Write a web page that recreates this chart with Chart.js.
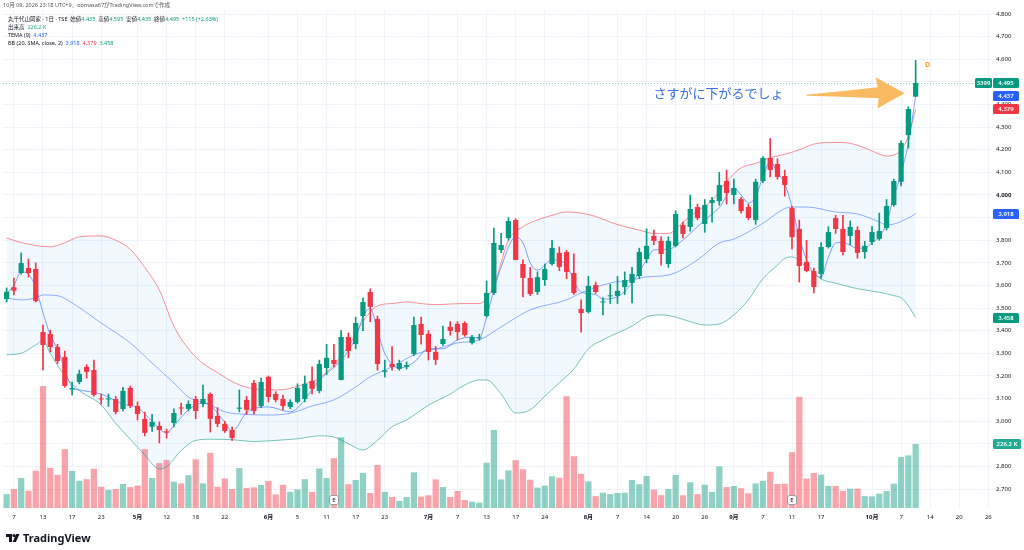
<!DOCTYPE html>
<html>
<head>
<meta charset="utf-8">
<script src="https://cdn.jsdelivr.net/npm/chart.js@4.4.1/dist/chart.umd.min.js"></script>
<style>
  body { margin: 0; background: #fff; font-family: "Noto Sans", "Noto Sans CJK JP", sans-serif; }
  #wrap { position: relative; width: 1024px; height: 550px; overflow: hidden; }
  #chart { position: absolute; left: 0; top: 0; }
  #title { position: absolute; left: 3px; top: 1px; font-size: 5.5px; color: #555; white-space: nowrap; }
  #legend { position: absolute; left: 8px; top: 15px; font-size: 5.5px; line-height: 8px; color: #131722; white-space: nowrap; }
  .g { color: #089981; } .b { color: #2962ff; } .r { color: #f23645; } .t { color: #22ab94; }
  #logo { position: absolute; left: 6px; top: 530px; font-size: 11px; font-weight: 700; color: #131722; display: flex; align-items: center; gap: 3px; }
</style>
</head>
<body>
<div id="wrap">
  <canvas id="chart" width="1024" height="550"></canvas>
  <div id="title">10月 09, 2026 23:18 UTC+9、oomasa67がTradingView.comで作成</div>
  <div id="legend">
    <div>丸千代山岡家 · 1日 · TSE &nbsp;始値<span class="g">4,435</span> &nbsp;高値<span class="g">4,595</span> &nbsp;安値<span class="g">4,435</span> &nbsp;終値<span class="g">4,495</span> &nbsp;<span class="g">+115 (+2.63%)</span></div>
    <div>出来高 &nbsp;<span class="t">226.2 K</span></div>
    <div>TEMA (9) &nbsp;<span class="b">4,437</span></div>
    <div>BB (20, SMA, close, 2) &nbsp;<span class="b">3,918</span> &nbsp;<span class="r">4,379</span> &nbsp;<span class="g">3,458</span></div>
  </div>
  <div id="logo">
    <svg width="14" height="10" viewBox="0 0 14 10"><path d="M0 1h6v8h-3v-5h-3z" fill="#131722"/><circle cx="8" cy="2.6" r="1.6" fill="#131722"/><path d="M10.2 1h3.3l-3.6 8h-3.3z" fill="#131722"/></svg>
    <span>TradingView</span>
  </div>
</div>
<script>
// trading days (2026) plus empty future slots on the right
const dates = [
  '4/6','4/7','4/8','4/9','4/10','4/13','4/14','4/15','4/16','4/17','4/20','4/21','4/22','4/23','4/24','4/27','4/28','4/30',
  '5/1','5/7','5/8','5/11','5/12','5/13','5/14','5/15','5/18','5/19','5/20','5/21','5/22','5/25','5/26','5/27','5/28','5/29',
  '6/1','6/2','6/3','6/4','6/5','6/8','6/9','6/10','6/11','6/12','6/15','6/16','6/17','6/18','6/19','6/22','6/23','6/24','6/25','6/26','6/29','6/30',
  '7/1','7/2','7/3','7/6','7/7','7/8','7/9','7/10','7/13','7/14','7/15','7/16','7/17','7/21','7/22','7/23','7/24','7/27','7/28','7/29','7/30','7/31',
  '8/3','8/4','8/5','8/6','8/7','8/10','8/12','8/13','8/14','8/17','8/18','8/19','8/20','8/21','8/24','8/25','8/26','8/27','8/28','8/31',
  '9/1','9/2','9/3','9/4','9/7','9/8','9/9','9/10','9/11','9/14','9/15','9/16','9/17','9/18','9/24','9/25','9/28','9/29','9/30',
  '10/1','10/2','10/5','10/6','10/7','10/8','10/9',
  '10/13','10/14','10/15','10/16','10/19','10/20','10/21','10/22','10/23','10/26'
];

// time axis labels
const tickLabels = {
  '4/7': '7', '4/13': '13', '4/17': '17', '4/23': '23', '5/1': '5月', '5/12': '12', '5/18': '18', '5/22': '22',
  '6/1': '6月', '6/5': '5', '6/11': '11', '6/17': '17', '6/23': '23', '7/1': '7月', '7/7': '7', '7/13': '13',
  '7/17': '17', '7/24': '24', '8/3': '8月', '8/7': '7', '8/14': '14', '8/20': '20', '8/26': '26', '9/1': '9月',
  '9/7': '7', '9/11': '11', '9/17': '17', '10/1': '10月', '10/7': '7', '10/14': '14', '10/20': '20', '10/26': '26'
};

const opens = [
  3540,3592,3655,3677,3673,3394,3386,3328,3284,3140,
  3173,3240,3226,3100,3096,3098,3054,3147,3067,3010,
  2975,2979,2955,2992,3060,3054,3098,3076,3120,3023,
  2988,2961,3055,3094,3169,3067,3196,3120,3098,3063,
  3085,3098,3178,3134,3235,3270,3182,3372,3341,3465,
  3571,3452,3218,3253,3231,3240,3297,3430,3386,3306,
  3341,3417,3430,3434,3346,3366,3465,3567,3757,3810,
  3889,3695,3633,3571,3624,3695,3744,3748,3655,3496,
  3483,3602,3525,3552,3554,3593,3611,3642,3717,3819,
  3797,3695,3775,3867,3859,3947,3872,3965,3973,4062,
  4000,3982,3947,3889,4062,4164,4137,4084,3942,3850,
  3704,3664,3651,3770,3898,3850,3819,3845,3748,3792,
  3806,3854,3956,4058,4265,4435
];
const highs = [
  3589,3633,3744,3717,3700,3425,3403,3340,3310,3173,
  3226,3250,3270,3120,3120,3110,3150,3155,3085,3040,
  3030,2997,2965,3055,3080,3090,3110,3160,3125,3060,
  3000,2975,3138,3110,3180,3190,3200,3130,3115,3095,
  3165,3200,3240,3270,3340,3340,3400,3390,3460,3545,
  3585,3465,3270,3330,3270,3262,3460,3460,3400,3330,
  3420,3440,3440,3440,3380,3385,3620,3854,3830,3900,
  3895,3713,3680,3660,3695,3800,3770,3755,3740,3536,
  3640,3615,3545,3605,3640,3660,3680,3765,3850,3845,
  3815,3815,3930,3880,4000,3960,3980,3990,4100,4110,
  4070,3990,3960,4070,4170,4250,4160,4110,3950,3889,
  3800,3677,3790,3860,3910,3910,3885,3860,3795,3860,
  3920,3980,4070,4240,4390,4595
];
const lows = [
  3527,3558,3650,3637,3527,3226,3306,3255,3150,3116,
  3165,3190,3110,3075,3065,3032,3045,3060,3005,2935,
  2955,2904,2925,2975,3030,3045,3010,3063,2952,2975,
  2950,2915,3041,3030,3030,3060,3085,3085,3050,3055,
  3080,3085,3120,3125,3205,3240,3182,3280,3320,3400,
  3440,3225,3195,3225,3225,3230,3290,3340,3270,3250,
  3335,3380,3360,3375,3340,3358,3460,3560,3745,3800,
  3713,3549,3555,3560,3600,3690,3665,3630,3560,3394,
  3478,3565,3470,3520,3520,3560,3523,3630,3700,3780,
  3690,3680,3770,3810,3840,3890,3835,3880,3955,3960,
  3960,3920,3890,3870,4055,4080,4070,3995,3760,3615,
  3660,3567,3630,3765,3830,3735,3780,3720,3720,3780,
  3800,3845,3950,4040,4208,4435
];
const closes = [
  3572,3577,3699,3655,3531,3337,3328,3266,3156,3146,
  3209,3218,3116,3096,3100,3041,3134,3067,3032,2948,
  2997,2961,2950,3036,3056,3076,3045,3098,3010,2988,
  2957,2926,3060,3050,3045,3173,3107,3094,3067,3085,
  3147,3165,3143,3253,3280,3253,3372,3310,3434,3527,
  3505,3253,3224,3240,3257,3248,3425,3381,3306,3271,
  3363,3399,3394,3381,3372,3370,3567,3788,3779,3885,
  3713,3633,3562,3637,3673,3766,3682,3660,3567,3478,
  3598,3571,3529,3556,3576,3624,3651,3748,3775,3797,
  3739,3797,3916,3828,3938,3898,3956,3978,4044,4009,
  4031,3929,3898,4058,4164,4111,4080,4044,3814,3686,
  3664,3593,3770,3836,3850,3748,3859,3744,3775,3836,
  3841,3951,4062,4230,4380,4495
];
// volume, thousands of shares
const volumes = [
  49,67,106,61,132,431,142,117,208,131,
  96,102,139,75,64,67,85,74,79,208,
  106,159,170,93,87,116,172,87,195,75,
  104,67,141,71,73,81,96,48,82,57,
  66,102,57,140,106,176,250,84,99,124,
  53,152,57,39,25,39,126,40,45,101,
  74,39,60,28,22,19,160,276,101,133,
  169,137,100,72,79,112,107,395,183,121,
  94,42,54,49,53,54,99,84,113,65,
  45,67,117,45,91,49,82,57,147,74,
  78,70,52,87,96,128,85,86,197,393,
  104,124,118,78,78,61,68,68,42,41,
  51,60,86,180,186,226.2
];

// TEMA(9), read at these candle indexes
const temaAt = [0,1,2,3,4,5,6,7,9,10,13,16,18,20,22,23,25,27,28,30,31,33,36,39,40,43,46,48,49,50,51,52,54,56,58,60,62,64,65,66,67,68,70,71,72,73,75,77,78,79,81,82,84,86,88,89,91,93,95,96,98,100,101,102,103,104,105,106,107,108,109,110,111,112,113,114,115,117,118,119,120,121,122,123,124,125];
const temaVal = [3565,3600,3660,3650,3590,3480,3380,3320,3151,3138,3120,3075,3060,3000,2948,2980,3050,3080,3070,2995,2955,3038,3063,3041,3058,3180,3271,3368,3461,3500,3400,3300,3235,3260,3320,3320,3359,3372,3368,3460,3580,3682,3814,3788,3700,3668,3713,3690,3620,3570,3560,3540,3550,3611,3713,3757,3760,3801,3860,3889,3945,4031,4000,3965,3991,4080,4146,4100,4050,3947,3814,3713,3655,3638,3726,3788,3790,3765,3765,3790,3814,3876,3991,4097,4230,4437];

// Bollinger bands (20, 2)
const upperAt = [0,2,6,8,10,13,15,17,19,21,23,25,27,29,31,33,35,37,39,41,43,45,47,49,51,53,55,57,59,61,63,65,67,69,71,73,75,77,79,81,83,85,87,89,91,93,95,97,99,101,103,105,107,109,111,113,115,117,119,121,123,124,125];
const upperVal = [3810,3790,3771,3789,3815,3819,3800,3760,3680,3580,3420,3320,3255,3215,3175,3150,3140,3138,3145,3165,3190,3250,3330,3440,3510,3520,3527,3520,3515,3518,3520,3520,3600,3800,3860,3890,3910,3925,3920,3905,3880,3860,3845,3830,3830,3880,3930,3975,4060,4120,4140,4165,4180,4200,4225,4232,4232,4220,4195,4172,4200,4260,4379];
const basisAt = [0,2,4,5,7,9,13,17,20,23,25,28,30,33,36,39,42,45,48,50,53,56,60,62,65,68,72,77,79,83,86,88,91,95,98,100,104,107,108,110,114,117,120,121,124,125];
const basisVal = [3545,3536,3545,3558,3555,3523,3434,3346,3257,3169,3107,3072,3041,3030,3027,3035,3067,3094,3151,3196,3240,3293,3328,3346,3359,3417,3492,3536,3567,3611,3624,3638,3646,3713,3788,3805,3875,3940,3947,3947,3925,3916,3881,3867,3898,3918];
const lowerAt = [0,2,4,5,6,8,10,13,15,17,19,21,22,24,26,28,31,34,37,40,43,45,47,49,51,53,55,58,61,63,65,66,68,70,72,74,76,78,80,82,84,86,88,90,92,94,96,98,100,102,104,106,107,108,110,112,114,116,118,120,122,123,124,125];
const lowerVal = [3293,3300,3337,3355,3300,3200,3135,3072,2990,2920,2850,2789,2798,2870,2915,2920,2918,2910,2915,2922,2935,2930,2900,2873,2915,2975,3005,3070,3120,3160,3182,3182,3120,3036,3050,3110,3170,3230,3320,3360,3390,3420,3461,3470,3460,3440,3425,3430,3470,3536,3630,3690,3720,3726,3680,3628,3610,3593,3580,3570,3555,3545,3510,3458];

const UP = '#089981';
const DOWN = '#f23645';
const isUp = closes.map((c, i) => c >= opens[i]);
const candleColors = isUp.map(u => u ? UP : DOWN);

function points(at, vals) {
  return at.map((i, k) => ({ x: dates[i], y: vals[k] }));
}

function lineSet(label, data, color, order) {
  return {
    type: 'line', label, data, borderColor: color, borderWidth: 1,
    pointRadius: 0, cubicInterpolationMode: 'monotone', fill: false, order
  };
}

// extra drawing: price line, axis tags, markers, annotation
const overlay = {
  id: 'overlay',
  beforeDatasetsDraw(chart) {
    const { ctx, chartArea: a, scales: { y } } = chart;
    const py = Math.round(y.getPixelForValue(closes[closes.length - 1])) + 0.5;
    ctx.save();
    ctx.strokeStyle = 'rgba(8,153,129,0.45)';
    ctx.lineWidth = 1;
    ctx.setLineDash([1, 2]);
    ctx.beginPath();
    ctx.moveTo(a.left, py);
    ctx.lineTo(a.right, py);
    ctx.stroke();
    ctx.restore();
  },
  afterDatasetsDraw(chart) {
    const { ctx, chartArea: a, scales: { x, y } } = chart;
    ctx.save();
    // earnings markers
    [45, 108].forEach(i => {
      const cx = Math.round(x.getPixelForValue(i));
      ctx.fillStyle = '#fff';
      ctx.strokeStyle = '#9598a1';
      ctx.lineWidth = 1;
      ctx.beginPath();
      ctx.roundRect(cx - 4.5, a.bottom - 12.5, 9, 9, 2);
      ctx.fill();
      ctx.stroke();
      ctx.fillStyle = '#131722';
      ctx.font = '6px "Noto Sans"';
      ctx.textAlign = 'center';
      ctx.textBaseline = 'middle';
      ctx.fillText('E', cx, a.bottom - 8);
    });
    // dividend marker
    const last = closes.length - 1;
    ctx.fillStyle = '#f5a11c';
    ctx.font = 'bold 7px "Noto Sans"';
    ctx.textAlign = 'center';
    ctx.fillText('D', x.getPixelForValue(last) + 12, y.getPixelForValue(4595) + 5);
    // arrow
    const tip = x.getPixelForValue(last) - 11;
    const tail = x.getPixelForValue(110);
    const cy = y.getPixelForValue(4450);
    const hb = tip - 27;
    ctx.fillStyle = 'rgba(249,178,80,0.9)';
    ctx.beginPath();
    ctx.moveTo(tail, cy + 1.5);
    ctx.quadraticCurveTo((tail + hb) / 2, cy - 2, hb, cy - 6);
    ctx.lineTo(hb - 2, cy - 16);
    ctx.lineTo(tip, cy);
    ctx.lineTo(hb, cy + 15);
    ctx.lineTo(hb + 1, cy + 5);
    ctx.quadraticCurveTo((tail + hb) / 2, cy + 3, tail, cy + 2.5);
    ctx.closePath();
    ctx.fill();
    // comment
    ctx.fillStyle = '#3a6fe0';
    ctx.font = '13px "Noto Sans CJK JP"';
    ctx.textAlign = 'right';
    ctx.textBaseline = 'middle';
    ctx.fillText('さすがに下がるでしょ', tail - 23, cy);
    ctx.restore();
  },
  afterDraw(chart) {
    const { ctx, chartArea: a, scales: { y, yv } } = chart;
    function tag(text, py, color, left, w) {
      ctx.fillStyle = color;
      ctx.beginPath();
      ctx.roundRect(left, Math.round(py) - 5, w, 10, 1.5);
      ctx.fill();
      ctx.fillStyle = '#fff';
      ctx.font = '600 6px "Noto Sans"';
      ctx.textAlign = 'center';
      ctx.textBaseline = 'middle';
      ctx.fillText(text, left + w / 2, Math.round(py) + 0.5);
    }
    ctx.save();
    const L = a.right + 1;
    tag('3399', y.getPixelForValue(4495), UP, a.right - 17, 17);
    tag('4,495', y.getPixelForValue(4495), UP, L, 26);
    tag('4,437', y.getPixelForValue(4437), '#2962ff', L, 26);
    tag('4,379', y.getPixelForValue(4379), DOWN, L, 26);
    tag('3,918', y.getPixelForValue(3918), '#2962ff', L, 26);
    tag('3,458', y.getPixelForValue(3458), UP, L, 26);
    tag('226.2 K', yv.getPixelForValue(226200), '#22ab94', L, 28);
    ctx.restore();
  }
};

const ctx = document.getElementById('chart').getContext('2d');
Chart.defaults.font.family = '"Noto Sans", "Noto Sans CJK JP", sans-serif';

new Chart(ctx, {
  type: 'bar',
  data: {
    labels: dates,
    datasets: [
      {
        label: 'body',
        data: opens.map((o, i) => [Math.min(o, closes[i]), Math.max(o, closes[i])]),
        backgroundColor: candleColors,
        barPercentage: 0.72, categoryPercentage: 1, grouped: false,
        minBarLength: 1, order: 1, yAxisID: 'y'
      },
      {
        label: 'wick',
        data: lows.map((l, i) => [l, highs[i]]),
        backgroundColor: candleColors,
        barThickness: 1, grouped: false, order: 2, yAxisID: 'y'
      },
      lineSet('TEMA', points(temaAt, temaVal), 'rgba(41,98,255,0.6)', 3),
      Object.assign(lineSet('upper', points(upperAt, upperVal), 'rgba(242,54,69,0.55)', 5),
        { fill: { target: 5 }, backgroundColor: 'rgba(33,150,243,0.06)' }),
      lineSet('basis', points(basisAt, basisVal), 'rgba(41,98,255,0.5)', 4),
      lineSet('lower', points(lowerAt, lowerVal), 'rgba(8,153,129,0.55)', 4),
      {
        label: 'volume',
        data: volumes.map(v => v * 1000),
        backgroundColor: isUp.map(u => u ? 'rgba(8,153,129,0.45)' : 'rgba(242,54,69,0.45)'),
        barPercentage: 0.86, categoryPercentage: 1, grouped: false, order: 6, yAxisID: 'yv'
      }
    ]
  },
  options: {
    responsive: false,
    animation: false,
    layout: { padding: { left: 3, right: 0, top: 10, bottom: 22 } },
    plugins: { legend: { display: false }, tooltip: { enabled: false } },
    scales: {
      x: {
        type: 'category',
        offset: true,
        grid: {
          offset: false,
          drawTicks: false,
          color: c => (c.tick && tickLabels[dates[c.tick.value]]) ? '#f0f3fa' : 'rgba(0,0,0,0)'
        },
        border: { display: false },
        ticks: {
          autoSkip: false, maxRotation: 0, padding: 6, color: '#131722',
          font: c => ({ size: 6, weight: (c.tick && String(c.tick.label).includes('月')) ? 'bold' : 'normal' }),
          callback: (v, i) => tickLabels[dates[i]] || ''
        },
        afterFit: s => { s.height = 20; }
      },
      y: {
        position: 'right',
        min: 2616, max: 4818,
        afterBuildTicks: s => {
          const t = [];
          for (let v = 2700; v <= 4800; v += 100) t.push({ value: v });
          s.ticks = t;
        },
        grid: { color: '#f0f3fa', drawTicks: false },
        border: { display: false },
        ticks: {
          padding: 4, color: '#131722',
          font: c => ({ size: 6, weight: (c.tick && c.tick.value === 4000) ? 'bold' : 'normal' }),
          callback: v => v.toLocaleString('en-US')
        },
        afterFit: s => { s.width = 32; }
      },
      yv: { display: false, min: 0, max: 1760000 }
    }
  },
  plugins: [overlay]
});
</script>
</body>
</html>
